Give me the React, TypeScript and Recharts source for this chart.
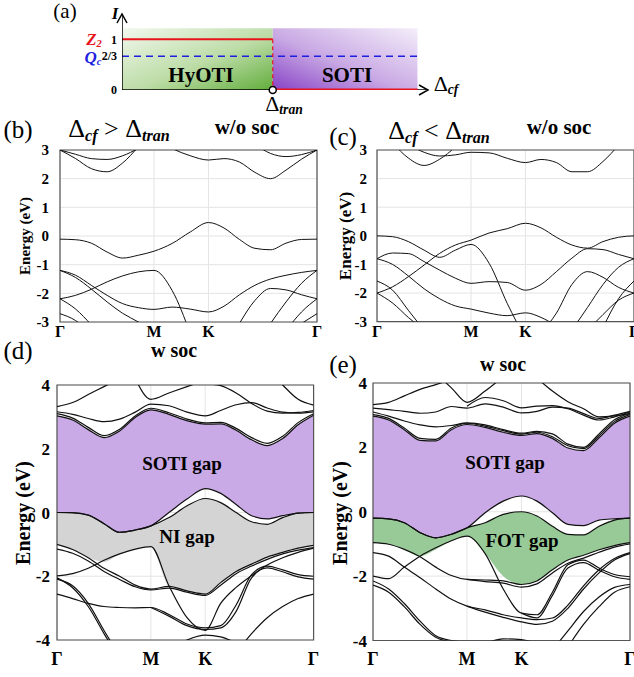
import React from 'react';
import {
  ComposedChart, Line, Area, XAxis, YAxis, CartesianGrid, ReferenceArea, ReferenceDot,
} from 'recharts';

const _ = null;
const serif = '"Liberation Serif", "Times New Roman", serif';

// k-path  Γ - M - K - Γ  (units of b, hexagonal BZ)
const kPoints = [0, 0.096, 0.192, 0.289, 0.385, 0.481, 0.577, 0.688, 0.799, 0.911, 1.006, 1.101, 1.196, 1.292, 1.387, 1.482, 1.577];
const kTicks = [0, 0.577, 0.911, 1.577];
const kLabels = ['Γ', 'M', 'K', 'Γ'];
const kEnd = 1.577;

const ticksNoSoc = [-3, -2, -1, 0, 1, 2, 3];
const ticksSoc = [-4, -2, 0, 2, 4];

// (b)  Δcf > Δtran, w/o soc
const bandsB = [
  [-0.11, -0.13, -0.25, -0.56, -0.77, -0.67, -0.53, -0.26, 0.14, 0.47, 0.28, -0.12, -0.43, -0.48, -0.25, -0.12, -0.11],
  [3.0, 2.7, 2.35, 2.24, 2.55, 3.1, 3.6, _, _, _, _, _, _, _, _, _, _],
  [3.0, 2.85, 2.7, 2.67, 2.8, 3.05, 3.3, _, _, _, _, _, _, _, _, _, _],
  [_, _, _, _, _, _, 3.4, 3.05, 2.8, 2.65, 2.7, 2.58, 2.22, 2.0, 2.3, 2.68, 3.0],
  [_, _, _, _, _, _, _, _, _, _, _, _, 3.2, 2.88, 2.77, 2.84, 3.0],
  [-1.2, -1.37, -1.72, -2.07, -2.36, -2.5, -2.56, -2.48, -2.55, -2.65, -2.45, -2.05, -1.72, -1.5, -1.37, -1.27, -1.2],
  [-1.2, -1.45, -1.85, -2.3, -2.7, -3.0, -3.35, _, _, _, _, _, _, _, _, _, _],
  [-2.19, -2.07, -1.86, -1.6, -1.39, -1.25, -1.2, -1.9, -3.4, _, _, _, _, _, _, _, _],
  [-2.19, -2.55, -3.1, _, _, _, _, _, _, _, _, _, _, _, _, _, _],
  [-2.71, -2.95, -3.4, _, _, _, _, _, _, _, _, _, _, _, _, _, _],
  [_, _, _, _, _, _, _, _, _, _, _, -3.05, -2.25, -1.83, -1.88, -2.05, -2.19],
  [_, _, _, _, _, _, _, _, _, _, _, _, _, -3.05, -2.3, -1.65, -1.2],
  [_, _, _, _, _, _, _, _, _, _, _, _, _, _, -3.3, -2.65, -2.19],
  [_, _, _, _, _, _, _, _, _, _, _, _, _, _, _, -3.05, -2.71],
];

// (c)  Δcf < Δtran, w/o soc
const bandsC = [
  [_, 3.25, 2.72, 2.46, 2.68, 3.1, 3.6, _, _, _, _, _, _, _, _, _, _],
  [_, _, 3.2, 2.92, 2.79, 2.83, 2.92, 2.9, 2.71, 2.56, 2.67, 2.56, 2.24, 2.24, 2.6, 3.17, _],
  [-2.0, -1.78, -1.43, -1.02, -0.61, -0.32, -0.15, 0.1, 0.25, 0.44, 0.28, -0.05, -0.32, -0.43, -0.2, -0.05, 0.0],
  [0.0, -0.03, -0.2, -0.5, -0.75, -0.5, -0.3, -0.96, -2.36, -3.6, _, _, _, _, _, _, _],
  [-0.8, -0.6, -0.62, -0.9, -1.2, -1.48, -1.66, -1.6, -1.63, -1.9, -1.7, -1.25, -0.78, -0.45, -0.48, -0.65, -0.8],
  [-0.8, -1.0, -1.4, -1.85, -2.2, -2.45, -2.56, -2.7, -2.79, -2.69, -2.85, -3.15, _, _, _, _, _],
  [-2.0, -2.35, -2.85, -3.3, _, _, _, _, _, _, _, _, _, _, _, _, _],
  [-1.58, -1.9, -2.6, -3.3, _, _, _, _, _, _, _, _, _, _, _, _, _],
  [_, _, _, _, _, _, _, _, _, _, -3.4, -2.7, -1.7, -1.25, -1.45, -1.8, -2.0],
  [_, _, _, _, _, _, _, _, _, _, _, _, -3.3, -2.5, -1.7, -1.1, -0.8],
  [_, _, _, _, _, _, _, _, _, _, _, _, _, -3.3, -2.75, -2.25, -2.0],
  [_, _, _, _, _, _, _, _, _, _, _, _, _, _, -3.2, -2.2, -1.58],
];

// (d)  w soc: gap edges
const dSotiTop = [3.03, 2.9, 2.6, 2.35, 2.56, 2.98, 3.22, 3.08, 2.88, 2.77, 2.78, 2.58, 2.28, 2.1, 2.32, 2.75, 3.05];
const dSotiBottom = [0.0, 0.0, -0.08, -0.35, -0.62, -0.55, -0.42, 0.0, 0.42, 0.75, 0.6, 0.25, -0.1, -0.2, -0.1, -0.02, 0.0];
const dNiTop = [0.0, -0.01, -0.08, -0.35, -0.62, -0.55, -0.42, -0.16, 0.21, 0.44, 0.31, 0.0, -0.29, -0.37, -0.16, -0.02, 0.0];
const dNiBottom = [-0.99, -1.15, -1.41, -1.55, -1.31, -1.15, -1.07, -2.32, -2.46, -2.56, -2.2, -1.85, -1.62, -1.4, -1.25, -1.12, -1.03];

const bandsD = [
  dSotiTop,
  [3.1, 2.96, 2.67, 2.41, 2.61, 3.03, 3.27, 3.13, 2.93, 2.81, 2.83, 2.64, 2.35, 2.17, 2.39, 2.82, 3.1],
  [3.16, 3.08, 2.95, 2.85, 2.93, 3.15, 3.4, 3.35, 3.15, 3.03, 3.2, 3.38, 3.45, 3.28, 3.15, 3.12, 3.16],
  [3.32, 3.45, 3.7, 3.95, 4.2, _, _, _, _, _, _, _, _, _, _, _, _],
  [_, _, _, _, _, 4.2, 3.55, 3.75, 3.95, 4.15, _, _, _, 4.5, 4.0, 3.55, 3.37],
  [_, _, _, _, _, _, _, _, 4.3, 4.05, 3.98, 3.75, 3.42, 3.18, 3.12, 3.14, 3.2],
  dSotiBottom,
  dNiTop,
  [-1.0, -1.16, -1.42, -1.75, -2.0, -2.28, -2.4, -2.32, -2.46, -2.56, -2.2, -1.85, -1.62, -1.4, -1.25, -1.12, -1.03],
  [-1.15, -1.28, -1.52, -1.85, -2.1, -2.33, -2.43, -2.37, -2.5, -2.6, -2.28, -1.92, -1.68, -1.47, -1.3, -1.18, -1.1],
  [-1.99, -1.92, -1.75, -1.5, -1.3, -1.15, -1.07, -2.3, -3.3, -3.7, -2.85, -2.35, -1.98, -1.65, -1.42, -1.25, -1.12],
  [-2.09, -2.3, -2.85, -3.7, -4.5, _, _, _, _, _, _, _, _, _, _, _, _],
  [-2.05, -2.36, -2.95, -3.8, -4.6, _, _, _, _, _, _, _, _, _, _, _, _],
  [-2.56, -2.7, -2.85, -2.95, -2.98, -2.99, -2.98, -3.2, -3.5, -3.62, -3.55, -2.9, -1.95, -1.68, -1.8, -1.95, -2.0],
  [_, _, _, _, _, _, -2.98, -3.25, -3.55, -3.67, -3.62, -3.1, -2.05, -1.74, -1.86, -2.02, -2.09],
  [_, _, _, _, _, _, _, _, _, _, _, -4.4, -3.8, -3.3, -2.95, -2.7, -2.56],
  [_, _, _, _, _, _, _, -4.3, -4.0, -3.85, -3.9, -4.1, _, _, _, _, _],
];

// (e)  w soc: gap edges
const eSotiTop = [2.97, 2.85, 2.55, 2.22, 2.2, 2.55, 2.71, 2.62, 2.47, 2.37, 2.43, 2.28, 1.98, 1.9, 2.3, 2.75, 2.97];
const eSotiBottom = [-0.2, -0.22, -0.34, -0.65, -0.81, -0.7, -0.5, -0.03, 0.33, 0.49, 0.33, -0.03, -0.39, -0.43, -0.26, -0.22, -0.2];
const eFotTop = [-0.2, -0.22, -0.34, -0.65, -0.81, -0.7, -0.5, -0.34, -0.08, 0.0, -0.13, -0.45, -0.7, -0.72, -0.45, -0.26, -0.2];
const eFotBottom = [-0.96, -1.01, -1.17, -1.38, -1.17, -0.91, -0.76, -1.3, -2.0, -2.26, -2.15, -1.8, -1.5, -1.35, -1.18, -1.05, -0.96];

const bandsE = [
  eSotiTop,
  [3.02, 2.9, 2.6, 2.28, 2.25, 2.6, 2.75, 2.66, 2.52, 2.41, 2.47, 2.33, 2.05, 1.96, 2.36, 2.8, 3.02],
  [3.1, 2.97, 2.82, 2.7, 2.64, 2.68, 2.76, 2.7, 2.55, 2.44, 2.5, 2.42, 2.1, 2.0, 2.42, 2.86, 3.06],
  [3.33, 3.4, 3.6, 3.8, 3.95, 4.1, _, _, _, _, _, _, _, _, _, _, _],
  [3.22, 3.17, 3.12, 3.06, 3.1, 3.27, 3.22, 3.35, 3.25, 3.07, 3.12, 3.25, 3.22, 3.05, 2.9, 3.0, 3.12],
  [_, _, _, _, _, _, 3.28, 3.55, 3.45, 3.23, 3.28, 3.3, 3.2, 3.0, 2.85, 2.95, 3.1],
  [_, _, _, _, _, _, _, _, _, _, 4.15, 3.75, 3.42, 3.2, 2.95, 2.98, 3.05],
  [_, _, _, _, 4.3, 3.85, 3.4, 3.75, 4.2, _, _, _, _, _, _, _, _],
  eSotiBottom,
  eFotTop,
  [-0.96, -1.01, -1.17, -1.4, -1.72, -1.98, -2.1, -2.12, -2.15, -2.26, -2.15, -1.8, -1.5, -1.35, -1.18, -1.05, -0.96],
  [_, _, _, _, _, _, -2.1, -2.17, -2.22, -2.34, -2.24, -1.9, -1.6, -1.44, -1.26, -1.1, -1.0],
  [-2.0, -2.08, -1.72, -1.38, -1.12, -0.9, -0.76, -1.3, -2.4, -3.15, -3.2, -2.5, -1.65, -1.5, -1.75, -1.95, -2.02],
  [_, _, _, _, _, _, _, _, _, -3.15, -3.3, -2.6, -1.75, -1.58, -1.82, -2.02, -2.1],
  [-1.27, -1.38, -1.72, -2.05, -2.4, -2.72, -2.93, -3.05, -3.2, -3.3, -3.35, -3.3, -2.9, -2.3, -1.8, -1.45, -1.27],
  [_, _, _, _, _, _, -2.93, -3.12, -3.28, -3.42, -3.5, -3.4, -3.0, -2.4, -1.9, -1.5, -1.3],
  [-2.15, -2.4, -2.85, -3.4, -3.85, -4.0, -4.05, _, _, _, _, _, _, _, _, _, _],
  [-2.28, -2.5, -2.95, -3.5, -3.9, -4.05, -4.1, _, _, _, _, _, _, _, _, _, _],
  [_, _, _, _, _, _, _, _, _, _, _, -4.3, -3.7, -3.1, -2.65, -2.35, -2.26],
  [_, _, _, _, _, _, _, _, _, _, _, _, -4.2, -3.5, -2.95, -2.5, -2.33],
  [_, _, _, _, _, _, _, -4.1, -3.95, -3.97, -4.1, _, _, _, _, _, _],
];

// (a) phase diagram: Δcf axis, Z2 and Qc invariants
const phaseTicks = [0, 2 / 3, 1];
const phaseTickLabels = ['0', '2/3', '1'];
const deltaTran = 1;
const deltaMax = 1.96;
const z2Hyoti = [{ d: 0, v: 1 }, { d: deltaTran, v: 1 }];
const z2Jump = [{ d: deltaTran, v: 1 }, { d: deltaTran, v: 0 }];
const z2Soti = [{ d: deltaTran, v: 0 }, { d: deltaMax, v: 0 }];
const qcLine = [{ d: 0, v: 2 / 3 }, { d: 1.985, v: 2 / 3 }];
const axisX = [{ d: 0, v: 0 }, { d: 2.03, v: 0 }];
const axisY = [{ d: 0, v: 0 }, { d: 0, v: 1.5 }];

type Shade = { lo: number[]; hi: number[]; fill: string };

interface BandPanelProps {
  left: number; top: number; width: number; height: number;
  yMax: number; yTicks: number[]; bands: (number | null)[][]; shades?: Shade[];
  tickSize: number; xTickSize: number; yGap: number; xGap: number; lineWidth: number;
}

const BandPanel = ({ left, top, width, height, yMax, yTicks, bands, shades = [], tickSize, xTickSize, yGap, xGap, lineWidth }: BandPanelProps) => {
  const data = kPoints.map((k, i) => {
    const row: any = { k };
    bands.forEach((b, j) => { row['b' + j] = b[i]; });
    shades.forEach((s, j) => { row['s' + j] = [s.lo[i], s.hi[i]]; });
    return row;
  });
  const padL = 60, padT = 12, padR = 14, padB = 34;
  const tickStyle = { fill: '#000', fontSize: tickSize, fontWeight: 'bold', fontFamily: serif };
  return (
    <div style={{ position: 'absolute', left: left - padL, top: top - padT }}>
      <ComposedChart width={width + padL + padR} height={height + padT + padB} data={data}
        margin={{ top: padT, right: padR, bottom: 0, left: 0 }}>
        <CartesianGrid stroke="#e4e4e4" />
        <XAxis type="number" dataKey="k" domain={[0, kEnd]} ticks={kTicks} interval={0} allowDataOverflow
          tickFormatter={(v: number) => kLabels[kTicks.indexOf(v)] ?? ''} height={padB}
          axisLine={false} tickLine={false} tickSize={0} tickMargin={xGap}
          tick={{ ...tickStyle, fontSize: xTickSize }} />
        <YAxis type="number" domain={[-yMax, yMax]} ticks={yTicks} interval={0} allowDataOverflow width={padL}
          axisLine={false} tickLine={false} tickSize={0} tickMargin={yGap} tick={tickStyle} />
        {shades.map((s, j) => (
          <Area key={'s' + j} dataKey={'s' + j} type="monotone" stroke="none" fill={s.fill} fillOpacity={1}
            isAnimationActive={false} activeDot={false} />
        ))}
        {bands.map((_b, j) => (
          <Line key={'b' + j} dataKey={'b' + j} type="monotone" stroke="#111" strokeWidth={lineWidth}
            dot={false} activeDot={false} isAnimationActive={false} connectNulls={false} />
        ))}
        <ReferenceArea x1={0} x2={kEnd} y1={-yMax} y2={yMax} fill="none" fillOpacity={0} stroke="#555" strokeWidth={1.2} />
      </ComposedChart>
    </div>
  );
};

const T = ({ x, y, size, children, style }: any) => (
  <div style={{
    position: 'absolute', left: x, top: y, transform: 'translate(-50%, -50%)', fontSize: size,
    fontFamily: serif, whiteSpace: 'nowrap', lineHeight: 1, ...style,
  }}>{children}</div>
);

const VLabel = ({ x, y, size }: any) => (
  <div style={{
    position: 'absolute', left: x, top: y, transform: 'translate(-50%, -50%) rotate(-90deg)', fontSize: size,
    fontFamily: serif, fontWeight: 'bold', whiteSpace: 'nowrap', lineHeight: 1,
  }}>Energy (eV)</div>
);

// subscripts shifted with position so they do not grow the line box
const subStyle = { fontStyle: 'italic', fontWeight: 'bold', fontSize: '0.62em', position: 'relative', top: '0.22em' } as const;
const Delta = ({ sub }: { sub: string }) => (
  <span>Δ<span style={subStyle}>{sub}</span></span>
);
const smallSub = { fontSize: '0.62em', position: 'relative', top: '0.18em' } as const;

const arrowRight = (p: any) => (
  <path d={`M${p.cx - 9},${p.cy - 5} L${p.cx},${p.cy} L${p.cx - 9},${p.cy + 5}`} fill="none" stroke="#000" strokeWidth={1.5} />
);
const arrowUp = (p: any) => (
  <path d={`M${p.cx - 5},${p.cy + 9} L${p.cx},${p.cy} L${p.cx + 5},${p.cy + 9}`} fill="none" stroke="#000" strokeWidth={1.5} />
);

const PhasePanel = () => {
  const padL = 40, padT = 4;
  const seg = { dataKey: 'v', dot: false, activeDot: false, isAnimationActive: false, type: 'linear' as const };
  return (
    <div style={{ position: 'absolute', left: 122 - padL, top: 14 - padT }}>
      <ComposedChart width={306 + padL + 8} height={76 + padT + 6}
        margin={{ top: padT, right: 8, bottom: 6, left: 0 }}>
        <defs>
          <linearGradient id="gHy" x1="0" y1="0" x2="1" y2="1">
            <stop offset="0%" stopColor="#f2f8ee" />
            <stop offset="55%" stopColor="#bcdca6" />
            <stop offset="100%" stopColor="#62ad3c" />
          </linearGradient>
          <linearGradient id="gSo" x1="0" y1="1" x2="1" y2="0">
            <stop offset="0%" stopColor="#8743c6" />
            <stop offset="45%" stopColor="#c9a9e4" />
            <stop offset="100%" stopColor="#f4eefa" />
          </linearGradient>
        </defs>
        <XAxis type="number" dataKey="d" domain={[0, 2.03]} allowDataOverflow hide />
        <YAxis type="number" domain={[0, 1.5]} allowDataOverflow ticks={phaseTicks} interval={0} width={padL}
          axisLine={false} tickLine={false} tickSize={0} tickMargin={5}
          tickFormatter={(v: number) => phaseTickLabels[phaseTicks.indexOf(v)] ?? ''}
          tick={{ fill: '#000', fontSize: 12, fontWeight: 'bold', fontFamily: serif }} />
        <ReferenceArea x1={0} x2={deltaTran} y1={0} y2={1.22} fill="url(#gHy)" fillOpacity={1} stroke="none" />
        <ReferenceArea x1={deltaTran} x2={deltaMax} y1={0} y2={1.22} fill="url(#gSo)" fillOpacity={1} stroke="none" />
        <Line {...seg} data={qcLine} stroke="#1f1fe0" strokeWidth={1.6} strokeDasharray="7 5" />
        <Line {...seg} data={z2Hyoti} stroke="#e8141c" strokeWidth={2} />
        <Line {...seg} data={z2Jump} stroke="#e8141c" strokeWidth={1.2} strokeDasharray="4 3" />
        <Line {...seg} data={axisX} stroke="#000" strokeWidth={1.5} />
        <Line {...seg} data={axisY} stroke="#000" strokeWidth={1.5} />
        <Line {...seg} data={z2Soti} stroke="#e8141c" strokeWidth={3} />
        <ReferenceDot x={2.03} y={0} shape={arrowRight} />
        <ReferenceDot x={0} y={1.5} shape={arrowUp} />
        <ReferenceDot x={deltaTran} y={0} r={3.5} fill="#fff" stroke="#000" strokeWidth={1.5} />
      </ComposedChart>
    </div>
  );
};

export default function App() {
  return (
    <div style={{ position: 'absolute', left: 0, top: 0, width: 634, height: 677, overflow: 'hidden', background: '#fff', fontFamily: serif }}>
      {/* (a) */}
      <PhasePanel />
      <T x={65} y={11} size={21}>(a)</T>
      <T x={115} y={13} size={17} style={{ fontStyle: 'italic', fontWeight: 'bold' }}>I</T>
      <T x={94} y={39} size={17} style={{ color: '#e8141c', fontWeight: 'bold', fontStyle: 'italic' }}>
        Z<span style={smallSub}>2</span>
      </T>
      <T x={93} y={57} size={17} style={{ color: '#1f1fe0', fontWeight: 'bold', fontStyle: 'italic' }}>
        Q<span style={smallSub}>c</span>
      </T>
      <T x={201} y={75} size={21} style={{ fontWeight: 'bold' }}>HyOTI</T>
      <T x={347} y={75} size={21} style={{ fontWeight: 'bold' }}>SOTI</T>
      <T x={446} y={84} size={22}><Delta sub="cf" /></T>
      <T x={284} y={104} size={22}><Delta sub="tran" /></T>

      {/* (b) */}
      <BandPanel left={60} top={149.5} width={257} height={172} yMax={3} yTicks={ticksNoSoc} bands={bandsB}
        tickSize={15} xTickSize={16} yGap={11} xGap={4} lineWidth={1} />
      <T x={18} y={129} size={25}>(b)</T>
      <T x={119} y={129} size={26}><Delta sub="cf" /> &gt; <Delta sub="tran" /></T>
      <T x={247} y={127} size={21} style={{ fontWeight: 'bold' }}>w/o soc</T>
      <VLabel x={25} y={236} size={15} />

      {/* (c) */}
      <BandPanel left={376.7} top={150} width={257} height={171.7} yMax={3} yTicks={ticksNoSoc} bands={bandsC}
        tickSize={15} xTickSize={16} yGap={10} xGap={4} lineWidth={1} />
      <T x={343} y={136} size={25}>(c)</T>
      <T x={439} y={131} size={26}><Delta sub="cf" /> &lt; <Delta sub="tran" /></T>
      <T x={559} y={127} size={21} style={{ fontWeight: 'bold' }}>w/o soc</T>
      <VLabel x={345} y={236} size={17} />

      {/* (d) */}
      <BandPanel left={56.7} top={385} width={256.6} height={255} yMax={4} yTicks={ticksSoc} bands={bandsD}
        shades={[
          { lo: dSotiBottom, hi: dSotiTop, fill: '#c9aae6' },
          { lo: dNiBottom, hi: dNiTop, fill: '#d4d4d4' },
        ]}
        tickSize={17} xTickSize={18} yGap={7} xGap={12} lineWidth={1.2} />
      <T x={18} y={350} size={25}>(d)</T>
      <T x={174} y={350} size={20} style={{ fontWeight: 'bold' }}>w soc</T>
      <VLabel x={23} y={513} size={20} />
      <T x={182} y={463} size={19} style={{ fontWeight: 'bold' }}>SOTI gap</T>
      <T x={187} y={536} size={19} style={{ fontWeight: 'bold' }}>NI gap</T>

      {/* (e) */}
      <BandPanel left={373.3} top={382.5} width={257} height={257.5} yMax={4} yTicks={ticksSoc} bands={bandsE}
        shades={[
          { lo: eSotiBottom, hi: eSotiTop, fill: '#c9aae6' },
          { lo: eFotBottom, hi: eFotTop, fill: '#98ca98' },
        ]}
        tickSize={17} xTickSize={18} yGap={6} xGap={12} lineWidth={1.2} />
      <T x={343} y={364} size={25}>(e)</T>
      <T x={503} y={364} size={20} style={{ fontWeight: 'bold' }}>w soc</T>
      <VLabel x={340} y={513} size={20} />
      <T x={505} y={462} size={19} style={{ fontWeight: 'bold' }}>SOTI gap</T>
      <T x={522} y={540} size={19} style={{ fontWeight: 'bold' }}>FOT gap</T>
    </div>
  );
}
